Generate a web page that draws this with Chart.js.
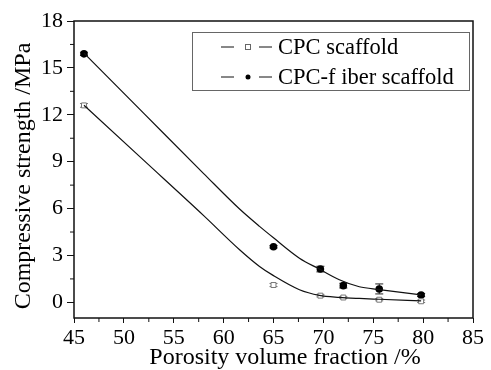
<!doctype html>
<html lang="en">
<head>
<meta charset="utf-8">
<script src="https://cdn.jsdelivr.net/npm/chart.js"></script>
<style>
html, body { margin: 0; padding: 0; background: #ffffff; }
#wrap { width: 491px; height: 370px; }
</style>
</head>
<body>
<div id="wrap"><canvas id="chart"></canvas></div>
<script>
// measured points
const porosity = [46, 65, 69.7, 72, 75.6, 79.8];
const cpcStrength = [12.6, 1.11, 0.43, 0.31, 0.17, 0.07];
const cpcErr = [0.12, 0.1, 0.08, 0.06, 0.07, 0.08];
const fiberStrength = [15.9, 3.56, 2.13, 1.07, 0.86, 0.47];
const fiberErr = [0.1, 0.08, 0.18, 0.15, 0.32, 0.1];

// fitted curves
const fitX = [46, 52, 58, 61.6, 63.6, 65, 67.6, 69.6, 71.6, 73.6, 75.6, 79.8];
const cpcFit = [12.61, 9.08, 5.55, 3.37, 2.3, 1.71, 0.81, 0.45, 0.32, 0.25, 0.2, 0.1];
const fiberFit = [15.94, 12.09, 8.24, 5.97, 4.86, 4.13, 2.83, 2.13, 1.45, 1.0, 0.82, 0.48];

const xTicks = [45, 50, 55, 60, 65, 70, 75, 80, 85];
const yTicks = [0, 3, 6, 9, 12, 15, 18];
const legendLabels = ['CPC scaffold', 'CPC-f iber scaffold'];

const FONT = "'Liberation Serif', 'Times New Roman', serif";
const INK = '#111';

function pts(xs, ys) {
    return xs.map((x, i) => ({ x: x, y: ys[i] }));
}

const extras = {
    id: 'extras',
    beforeDatasetsDraw(chart) {
        const ctx = chart.ctx;
        const xs = chart.scales.x, ys = chart.scales.y;
        ctx.save();
        ctx.lineWidth = 1;
        [[cpcStrength, cpcErr, '#777'], [fiberStrength, fiberErr, '#222']].forEach(function (s) {
            ctx.strokeStyle = s[2];
            porosity.forEach(function (p, i) {
                const px = xs.getPixelForValue(p);
                const top = ys.getPixelForValue(s[0][i] + s[1][i]);
                const bot = ys.getPixelForValue(s[0][i] - s[1][i]);
                ctx.beginPath();
                ctx.moveTo(px, top); ctx.lineTo(px, bot);
                ctx.moveTo(px - 4, top); ctx.lineTo(px + 4, top);
                ctx.moveTo(px - 4, bot); ctx.lineTo(px + 4, bot);
                ctx.stroke();
            });
        });
        ctx.restore();
    },
    afterDraw(chart) {
        const ctx = chart.ctx;
        const a = chart.chartArea;
        const xs = chart.scales.x, ys = chart.scales.y;
        ctx.save();
        // frame
        ctx.strokeStyle = INK;
        ctx.lineWidth = 1.5;
        ctx.strokeRect(a.left, a.top, a.right - a.left, a.bottom - a.top);
        // minor ticks
        ctx.lineWidth = 1;
        ctx.beginPath();
        for (let v = 47.5; v < 85; v += 5) {
            const px = xs.getPixelForValue(v);
            ctx.moveTo(px, a.bottom); ctx.lineTo(px, a.bottom + 4);
        }
        for (let v = 1.5; v < 18; v += 3) {
            const py = ys.getPixelForValue(v);
            ctx.moveTo(a.left, py); ctx.lineTo(a.left - 4, py);
        }
        ctx.stroke();

        // axis titles
        ctx.fillStyle = '#000';
        ctx.font = '24px ' + FONT;
        ctx.textAlign = 'center';
        ctx.textBaseline = 'middle';
        ctx.fillText('Porosity volume fraction /%', 285, 358);
        ctx.translate(24, 176);
        ctx.rotate(-Math.PI / 2);
        ctx.fillText('Compressive strength /MPa', 0, 0);
        ctx.setTransform(1, 0, 0, 1, 0, 0);

        // legend
        ctx.strokeStyle = '#666';
        ctx.lineWidth = 1;
        ctx.strokeRect(192.5, 32.5, 277, 58);
        const rows = [47, 77];
        ctx.font = '22.5px ' + FONT;
        ctx.textAlign = 'left';
        rows.forEach(function (y, i) {
            ctx.strokeStyle = INK;
            ctx.beginPath();
            ctx.moveTo(221, y); ctx.lineTo(234, y);
            ctx.moveTo(259, y); ctx.lineTo(272, y);
            ctx.stroke();
            if (i === 0) {
                ctx.strokeStyle = '#666';
                ctx.strokeRect(245.5, y - 2.5, 5, 5);
            } else {
                ctx.fillStyle = '#000';
                ctx.beginPath();
                ctx.arc(248, y, 2.5, 0, Math.PI * 2);
                ctx.fill();
            }
            ctx.fillStyle = '#000';
            ctx.fillText(legendLabels[i], 278, y + 1);
        });
        ctx.restore();
    }
};

new Chart(document.getElementById('chart'), {
    type: 'scatter',
    data: {
        datasets: [
            {
                label: 'cpc fit', data: pts(fitX, cpcFit), showLine: true,
                borderColor: INK, borderWidth: 1.2, pointRadius: 0,
                cubicInterpolationMode: 'monotone'
            },
            {
                label: 'fiber fit', data: pts(fitX, fiberFit), showLine: true,
                borderColor: INK, borderWidth: 1.2, pointRadius: 0,
                cubicInterpolationMode: 'monotone'
            },
            {
                label: legendLabels[0], data: pts(porosity, cpcStrength),
                pointStyle: 'rect', pointRadius: 3.5, pointBorderWidth: 1,
                pointBorderColor: '#777', pointBackgroundColor: '#fff'
            },
            {
                label: legendLabels[1], data: pts(porosity, fiberStrength),
                pointStyle: 'circle', pointRadius: 3.8, pointBorderWidth: 0,
                pointBackgroundColor: '#000'
            }
        ]
    },
    options: {
        responsive: true,
        maintainAspectRatio: false,
        animation: false,
        layout: { padding: { top: 21, right: 18, left: 0, bottom: 0 } },
        plugins: { legend: { display: false }, tooltip: { enabled: false } },
        scales: {
            x: {
                type: 'linear', min: 45, max: 85,
                afterBuildTicks: function (s) { s.ticks = xTicks.map(v => ({ value: v })); },
                afterFit: function (s) { s.height = 52; },
                grid: { drawOnChartArea: false, drawTicks: true, tickLength: 5, color: INK, lineWidth: 1 },
                border: { display: false },
                ticks: { color: '#000', padding: 2, maxRotation: 0, font: { family: FONT, size: 22 } }
            },
            y: {
                type: 'linear', min: -1, max: 18,
                afterBuildTicks: function (s) { s.ticks = yTicks.map(v => ({ value: v })); },
                afterFit: function (s) { s.width = 74; },
                grid: { drawOnChartArea: false, drawTicks: true, tickLength: 7, color: INK, lineWidth: 1 },
                border: { display: false },
                ticks: { color: '#000', padding: 4, font: { family: FONT, size: 22 } }
            }
        }
    },
    plugins: [extras]
});
</script>
</body>
</html>
